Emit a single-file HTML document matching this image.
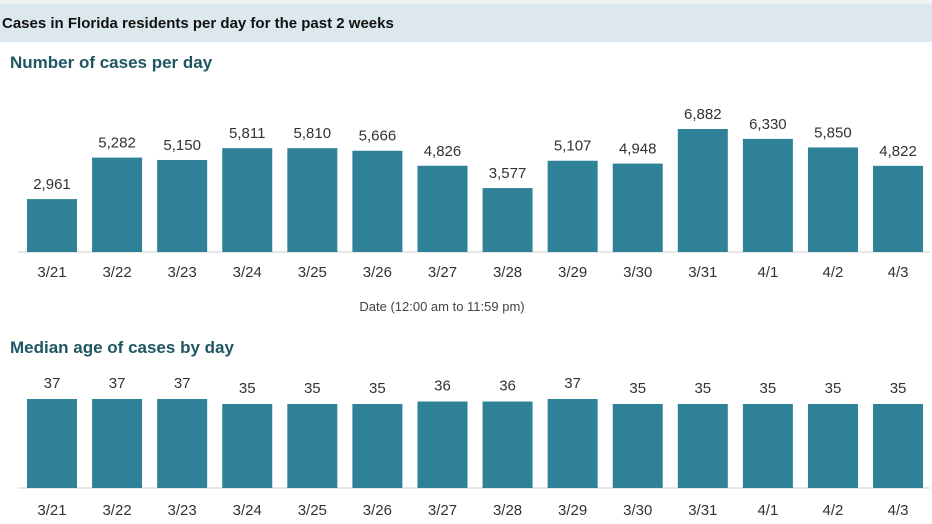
<!DOCTYPE html><html><head><style>body{margin:0;background:#fff}svg{display:block}</style></head><body>
<svg width="932" height="524" xmlns="http://www.w3.org/2000/svg" font-family="Liberation Sans Narrow, Liberation Sans, sans-serif">
<rect x="0" y="0" width="932" height="42" fill="#dce8ed"/>
<rect x="0" y="0" width="932" height="4" fill="#eef3f5"/>
<text x="2" y="28" font-size="15" font-weight="bold" fill="#111">Cases in Florida residents per day for the past 2 weeks</text>
<text x="10" y="68" font-size="17" font-weight="bold" fill="#1f5663">Number of cases per day</text>
<text x="10" y="353" font-size="17" font-weight="bold" fill="#1f5663">Median age of cases by day</text>
<g id="c1" font-size="15" fill="#333" text-anchor="middle"></g>
<line x1="18" y1="252" x2="930" y2="252" stroke="#ccc"/>
<line x1="18" y1="488" x2="930" y2="488" stroke="#ccc"/>
<text x="442" y="311" font-size="13" fill="#444" text-anchor="middle">Date (12:00 am to 11:59 pm)</text>
<g fill="#2e8196" id="bars"></g>
<g font-size="15" fill="#333" text-anchor="middle" id="lbl"></g>
</svg>
<script>
var d=["3/21","3/22","3/23","3/24","3/25","3/26","3/27","3/28","3/29","3/30","3/31","4/1","4/2","4/3"];
var v=[2961,5282,5150,5811,5810,5666,4826,3577,5107,4948,6882,6330,5850,4822];
var a=[37,37,37,35,35,35,36,36,37,35,35,35,35,35];
var b=document.getElementById('bars'),l=document.getElementById('lbl'),s='',t='';
for(var i=0;i<14;i++){var x=27+i*65.08,c=x+25;
var h=v[i]*0.01787;s+='<rect x="'+x+'" y="'+(252-h)+'" width="50" height="'+h+'"/>';
t+='<text x="'+c+'" y="'+(252-h-10)+'">'+v[i].toLocaleString('en-US')+'</text>';
t+='<text x="'+c+'" y="277">'+d[i]+'</text>';
var h2=a[i]==37?89:a[i]==36?86.5:84;s+='<rect x="'+x+'" y="'+(488-h2)+'" width="50" height="'+h2+'"/>';
t+='<text x="'+c+'" y="'+(488-h2-11)+'">'+a[i]+'</text>';
t+='<text x="'+c+'" y="515">'+d[i]+'</text>';}
b.innerHTML=s;l.innerHTML=t;
</script>
</body></html>
